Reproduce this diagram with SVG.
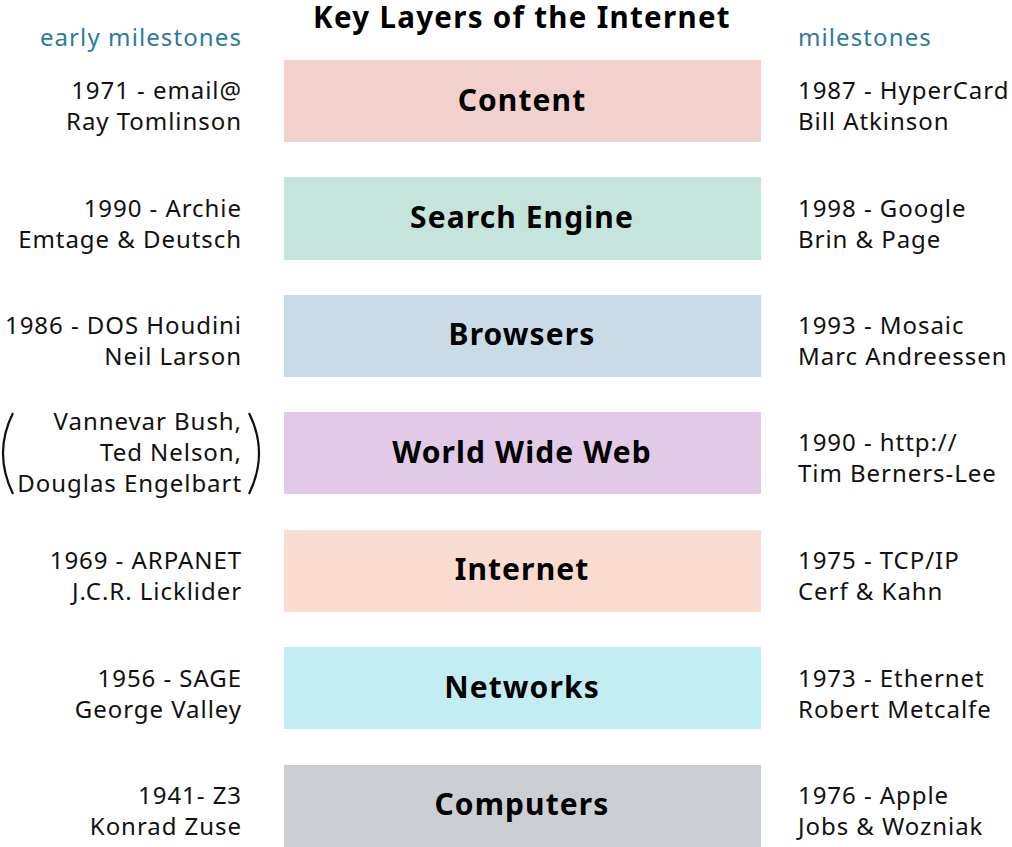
<svg xmlns="http://www.w3.org/2000/svg" width="1012" height="847" viewBox="0 0 1012 847">
<style>
text{font-family:"Noto Sans","Open Sans","DejaVu Sans",sans-serif}
.title{font-size:29.5px;font-weight:bold;fill:#000;text-anchor:middle;letter-spacing:1.3px}
.lbl{font-size:30px;font-weight:bold;fill:#000;text-anchor:middle;letter-spacing:1.1px}
.hd{font-size:24px;fill:#2e7aa0;letter-spacing:1.1px}
.l{font-size:24px;fill:#111;text-anchor:end;letter-spacing:0.95px}
.r{font-size:24px;fill:#111;text-anchor:start;letter-spacing:0.95px}
.paren{fill:none;stroke:#111;stroke-width:2.2}
</style>
<rect width="1012" height="847" fill="#fff"/>
<text class="title" x="522" y="28">Key Layers of the Internet</text>
<text class="hd" x="242" y="46" text-anchor="end">early milestones</text>
<text class="hd" x="798" y="46">milestones</text>

<g id="content">
<rect x="284" y="60" width="477" height="82" fill="#f2d0cb"/>
<text class="lbl" x="522" y="111">Content</text>
<text class="l" x="242" y="99">1971 - email@</text>
<text class="l" x="242" y="130">Ray Tomlinson</text>
<text class="r" x="798" y="99">1987 - HyperCard</text>
<text class="r" x="798" y="130">Bill Atkinson</text>
</g>
<g id="search">
<rect x="284" y="177" width="477" height="83" fill="#c5e4dc"/>
<text class="lbl" x="522" y="228">Search Engine</text>
<text class="l" x="242" y="217">1990 - Archie</text>
<text class="l" x="242" y="248">Emtage &amp; Deutsch</text>
<text class="r" x="798" y="217">1998 - Google</text>
<text class="r" x="798" y="248">Brin &amp; Page</text>
</g>
<g id="browsers">
<rect x="284" y="295" width="477" height="82" fill="#c8dbe7"/>
<text class="lbl" x="522" y="345">Browsers</text>
<text class="l" x="242" y="334">1986 - DOS Houdini</text>
<text class="l" x="242" y="365">Neil Larson</text>
<text class="r" x="798" y="334">1993 - Mosaic</text>
<text class="r" x="798" y="365">Marc Andreessen</text>
</g>
<g id="www">
<rect x="284" y="412" width="477" height="82" fill="#e2c9e7"/>
<text class="lbl" x="522" y="463">World Wide Web</text>
<text class="l" x="242" y="430">Vannevar Bush,</text>
<text class="l" x="242" y="461">Ted Nelson,</text>
<text class="l" x="242" y="492">Douglas Engelbart</text>
<path class="paren" d="M13,413 Q-7,453 13,494"/>
<path class="paren" d="M249,413 Q269,453 249,494"/>
<text class="r" x="798" y="451">1990 - http://</text>
<text class="r" x="798" y="482">Tim Berners-Lee</text>
</g>
<g id="internet">
<rect x="284" y="530" width="477" height="82" fill="#fadbcf"/>
<text class="lbl" x="522" y="580">Internet</text>
<text class="l" x="242" y="569">1969 - ARPANET</text>
<text class="l" x="242" y="600">J.C.R. Licklider</text>
<text class="r" x="798" y="569">1975 - TCP/IP</text>
<text class="r" x="798" y="600">Cerf &amp; Kahn</text>
</g>
<g id="networks">
<rect x="284" y="647" width="477" height="82" fill="#c2edf2"/>
<text class="lbl" x="522" y="698">Networks</text>
<text class="l" x="242" y="687">1956 - SAGE</text>
<text class="l" x="242" y="718">George Valley</text>
<text class="r" x="798" y="687">1973 - Ethernet</text>
<text class="r" x="798" y="718">Robert Metcalfe</text>
</g>
<g id="computers">
<rect x="284" y="765" width="477" height="82" fill="#cbcfd4"/>
<text class="lbl" x="522" y="815">Computers</text>
<text class="l" x="242" y="804">1941- Z3</text>
<text class="l" x="242" y="835">Konrad Zuse</text>
<text class="r" x="798" y="804">1976 - Apple</text>
<text class="r" x="798" y="835">Jobs &amp; Wozniak</text>
</g>
<g id="connectors"></g>
</svg>
